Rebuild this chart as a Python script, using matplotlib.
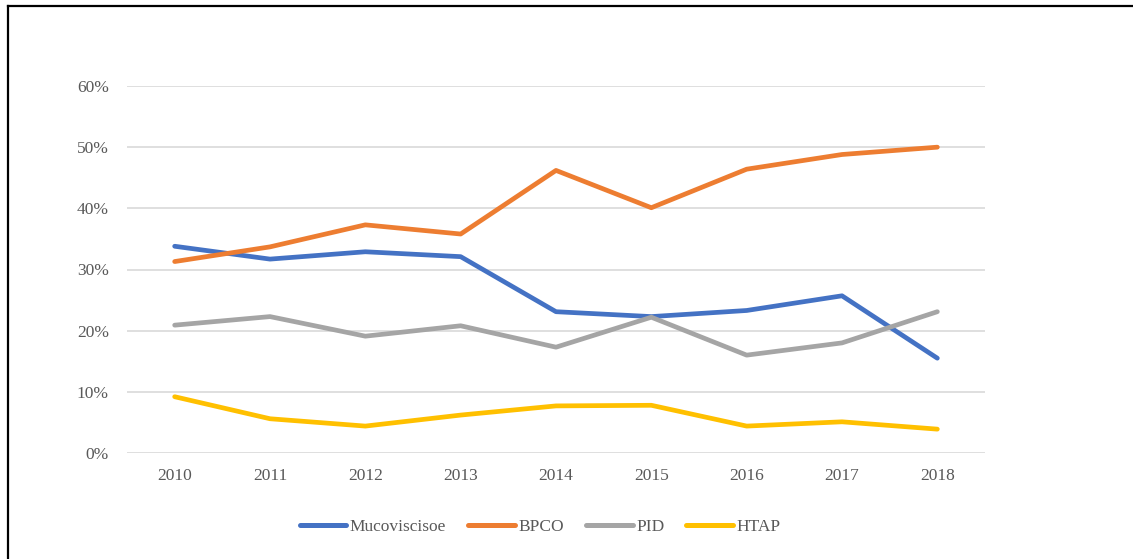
import matplotlib.pyplot as plt
from matplotlib.lines import Line2D
from matplotlib.ticker import FuncFormatter

# data
years = ['2010', '2011', '2012', '2013', '2014', '2015', '2016', '2017', '2018']
mucoviscisoe = [0.338, 0.317, 0.329, 0.321, 0.231, 0.223, 0.233, 0.257, 0.155]
bpco = [0.313, 0.337, 0.373, 0.358, 0.462, 0.401, 0.464, 0.488, 0.500]
pid = [0.209, 0.223, 0.191, 0.208, 0.173, 0.222, 0.160, 0.180, 0.231]
htap = [0.092, 0.056, 0.044, 0.062, 0.077, 0.078, 0.044, 0.051, 0.039]

series = [('Mucoviscisoe', mucoviscisoe, '#4472C4'),
          ('BPCO', bpco, '#ED7D31'),
          ('PID', pid, '#A5A5A5'),
          ('HTAP', htap, '#FFC000')]

W, H = 1133, 559
plt.rcParams['font.family'] = ['Liberation Serif', 'DejaVu Serif']
fs = 12.5
txt = '#595959'

fig = plt.figure(figsize=(W / 100, H / 100), dpi=100)
ax = fig.add_axes([127 / W, 1 - 453 / H, (985 - 127) / W, (453 - 86) / H])

x = list(range(len(years)))
for name, vals, col in series:
    ax.plot(x, vals, color=col, lw=3.4, label=name,
            solid_capstyle='round', solid_joinstyle='round')

ax.set_xlim(-0.5, len(years) - 0.5)
ax.set_ylim(0, 0.6)
ax.set_yticks([0, 0.1, 0.2, 0.3, 0.4, 0.5, 0.6])
ax.yaxis.set_major_formatter(FuncFormatter(lambda v, p: f'{v * 100:.0f}%'))
ax.set_xticks(x)
ax.set_xticklabels(years)
ax.grid(axis='y', color='#d9d9d9', lw=1.2)
ax.set_axisbelow(True)
for s in ax.spines.values():
    s.set_visible(False)
ax.tick_params(axis='both', length=0, labelsize=fs, colors=txt)
ax.tick_params(axis='x', pad=11)
ax.tick_params(axis='y', pad=13)

leg = fig.legend(loc='center', bbox_to_anchor=(540 / W, 1 - 527 / H),
                 ncol=4, frameon=False, fontsize=fs, handlelength=2.7,
                 handletextpad=0.2, columnspacing=1.25)
for t in leg.get_texts():
    t.set_color(txt)
for h in leg.get_lines():
    h.set_linewidth(3.6)
    h.set_solid_capstyle('round')

# frame (only top and left edges fall inside the picture)
fig.add_artist(Line2D([7.5 / W, 7.5 / W], [0, 1 - 5.5 / H], color='black', lw=1.6,
                      transform=fig.transFigure))
fig.add_artist(Line2D([7.5 / W, 1], [1 - 5.5 / H, 1 - 5.5 / H], color='black', lw=1.6,
                      transform=fig.transFigure))

fig.savefig('out.png', dpi=100)
